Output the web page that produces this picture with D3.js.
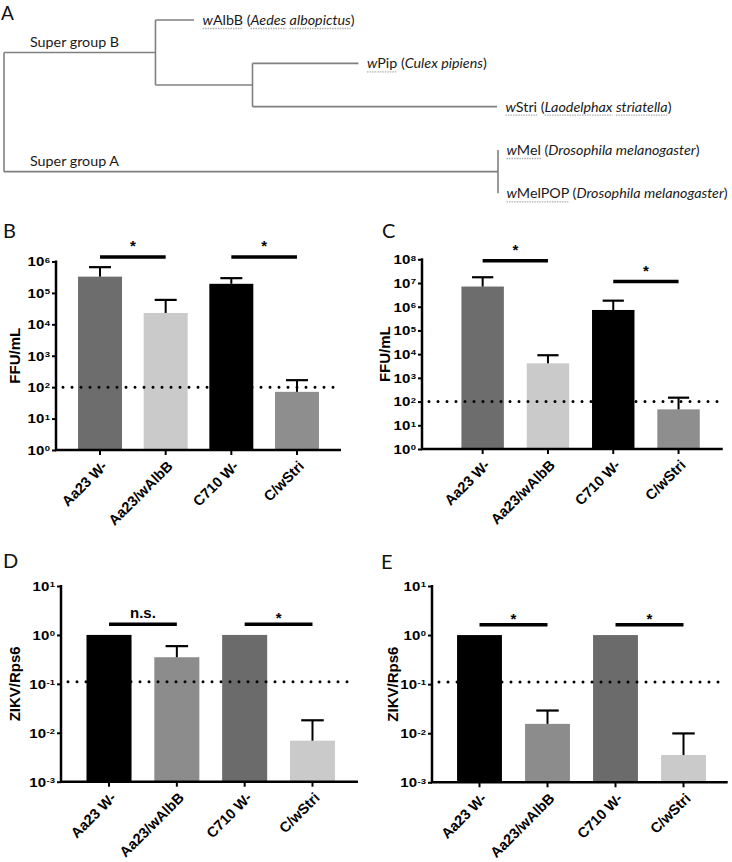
<!DOCTYPE html>
<html><head><meta charset="utf-8">
<script src="https://cdn.jsdelivr.net/npm/d3@7"></script>
<style>body{margin:0;background:#fff} svg{display:block}</style>
</head><body>
<svg id="c" width="732" height="862"></svg>
<script>
// ---------------- data ----------------
const groups = ["Aa23 W-", "Aa23/wAlbB", "C710 W-", "C/wStri"];

const ffuB = [3.3e5, 2.3e4, 1.95e5, 71];
const ffuBErrTop = [6.6e5, 6.0e4, 2.95e5, 167];
const ffuC = [7.1e6, 4.1e3, 7.3e5, 47];
const ffuCErrTop = [1.75e7, 9.0e3, 1.8e6, 146];
const zikvD = [1, 0.35, 1, 0.0069];
const zikvDErrTop = [null, 0.59, null, 0.018];
const zikvE = [1, 0.0155, 1, 0.0036];
const zikvEErrTop = [null, 0.029, null, 0.0099];

const ticksB = [1e0, 1e1, 1e2, 1e3, 1e4, 1e5, 1e6];
const ticksC = [1e0, 1e1, 1e2, 1e3, 1e4, 1e5, 1e6, 1e7, 1e8];
const ticksDE = [1e-3, 1e-2, 1e-1, 1e0, 1e1];

const detectionFFU = 100;
const detectionZIKV = 0.11;

// [from group index, to group index, label, height (data units)]
const sigB = [[0, 1, "*", 1.4e6], [2, 3, "*", 1.4e6]];
const sigC = [[0, 1, "*", 8.7e7], [2, 3, "*", 1.15e7]];
const sigD = [[0, 1, "n.s.", 1.66], [2, 3, "*", 1.66]];
const sigE = [[0, 1, "*", 1.62], [2, 3, "*", 1.62]];

const fillsBC = ["#6d6d6d", "#cacaca", "#000000", "#8e8e8e"];
const fillsDE = ["#000000", "#8c8c8c", "#6b6b6b", "#cacaca"];

// phylogeny (branch lengths, relative units)
const tree = {name: "root", children: [
  {name: "Super group B", len: 0.153, children: [
    {strain: "wAlbB", host: "Aedes albopictus", hostUl: true, len: 0.039},
    {len: 0.098, children: [
      {strain: "wPip", host: "Culex pipiens", hostUl: false, len: 0.107},
      {strain: "wStri", host: "Laodelphax striatella", hostUl: true, len: 0.247}
    ]}
  ]},
  {name: "Super group A", len: 0.499, children: [
    {strain: "wMel", host: "Drosophila melanogaster", hostUl: false, len: 0},
    {strain: "wMelPOP", host: "Drosophila melanogaster", hostUl: false, len: 0}
  ]}
]};

// ---------------- drawing ----------------
const svg = d3.select("#c");
const SANS = "'Liberation Sans', Arial, Helvetica, sans-serif";
const SOFT = "Lato, 'Open Sans', sans-serif";

// ---- Panel A: tree ----
(function drawTree() {
  const g = svg.append("g");
  const root = d3.hierarchy(tree);
  root.each(d => { d.dist = d.parent ? d.parent.dist + (d.data.len || 0) : 0; });
  const leaves = root.leaves();
  const yLeaf = d3.scalePoint().domain(d3.range(leaves.length)).range([20, 193.3]);
  leaves.forEach((l, i) => l.yy = yLeaf(i));
  root.eachAfter(d => { if (d.children) d.yy = d3.mean(d.children, c => c.yy); });
  const x = d3.scaleLinear().domain([0, 0.5]).range([4, 499]);

  const lineCol = "#808080";
  root.descendants().forEach(d => {
    if (d.parent) {
      g.append("line").attr("x1", x(d.parent.dist)).attr("x2", x(d.dist))
        .attr("y1", d.yy).attr("y2", d.yy).attr("stroke", lineCol).attr("stroke-width", 1.6);
    }
    if (d.children) {
      const ys = d.children.map(c => c.yy);
      g.append("line").attr("x1", x(d.dist)).attr("x2", x(d.dist))
        .attr("y1", d3.min(ys)).attr("y2", d3.max(ys)).attr("stroke", lineCol).attr("stroke-width", 1.6);
    }
    if (d.data.name && d.parent) {
      g.append("text").attr("x", x(0) + 26).attr("y", d.yy - 5.5)
        .attr("font-family", SOFT).attr("font-size", 14.3).attr("fill", "#1a1a1a")
        .text(d.data.name);
    }
  });

  leaves.forEach(l => {
    const s = l.data.strain;
    const segs = [{t: s[0], it: true, ul: true}, {t: s.slice(1), ul: true}, {t: " ("}];
    l.data.host.split(" ").forEach((w, i) => {
      if (i > 0) segs.push({t: " ", it: true});
      segs.push({t: w, it: true, ul: l.data.hostUl});
    });
    segs.push({t: ")"});
    const t = g.append("text").attr("x", x(l.dist) + 8.5).attr("y", l.yy).attr("dy", "0.36em")
      .attr("font-family", SOFT).attr("font-size", 14.3).attr("fill", "#1a1a1a")
      .style("white-space", "pre");
    const spans = segs.map(sg => t.append("tspan").attr("font-style", sg.it ? "italic" : "normal").text(sg.t));
    spans.forEach((sp, i) => {
      if (!segs[i].ul) return;
      const node = sp.node();
      const x0 = node.getStartPositionOfChar(0).x;
      const w = node.getComputedTextLength();
      g.append("line").attr("x1", x0).attr("x2", x0 + w)
        .attr("y1", l.yy + 8.5).attr("y2", l.yy + 8.5)
        .attr("stroke", "#b0b0b0").attr("stroke-width", 1.3).attr("stroke-dasharray", "1.5,1");
    });
  });

  svg.append("text").attr("x", 1).attr("y", 20).attr("font-family", SOFT)
    .attr("font-size", 19).attr("fill", "#111").text("A");
})();

// ---- bar panels ----
function drawPanel(cfg) {
  const g = svg.append("g");
  svg.append("text").attr("x", cfg.letterX).attr("y", cfg.letterY).attr("font-family", SOFT)
    .attr("font-size", 20).attr("fill", "#111").text(cfg.letter);

  const y = d3.scaleLog().domain([cfg.ticks[0], cfg.ticks[cfg.ticks.length - 1]])
    .range([cfg.yBottom, cfg.yTop]);
  const x = d3.scaleBand().domain(groups).range(cfg.band).paddingInner(cfg.pad).paddingOuter(cfg.pad / 2);
  const bw = x.bandwidth();

  // bars
  g.selectAll("rect.bar").data(groups).enter().append("rect")
    .attr("x", d => x(d)).attr("width", bw)
    .attr("y", (d, i) => y(cfg.values[i]))
    .attr("height", (d, i) => cfg.yBottom - y(cfg.values[i]))
    .attr("fill", (d, i) => cfg.fills[i]);

  // error bars (upper only)
  groups.forEach((gname, i) => {
    const top = cfg.errTop[i];
    if (top == null) return;
    const cx = x(gname) + bw / 2;
    g.append("line").attr("x1", cx).attr("x2", cx).attr("y1", y(cfg.values[i])).attr("y2", y(top))
      .attr("stroke", "#000").attr("stroke-width", 2);
    g.append("line").attr("x1", cx - bw / 4).attr("x2", cx + bw / 4).attr("y1", y(top)).attr("y2", y(top))
      .attr("stroke", "#000").attr("stroke-width", 2.2);
  });

  // detection limit
  g.append("line").attr("x1", cfg.axisX0 + 7).attr("x2", cfg.axisX1 - 3)
    .attr("y1", y(cfg.limit)).attr("y2", y(cfg.limit))
    .attr("stroke", "#000").attr("stroke-width", 3).attr("stroke-linecap", "round")
    .attr("stroke-dasharray", "0,9");

  // y axis
  const ya = g.append("g").attr("transform", `translate(${cfg.axisX0},0)`)
    .call(d3.axisLeft(y).tickValues(cfg.ticks).tickSize(4).tickFormat(""));
  ya.select(".domain").remove();
  ya.selectAll(".tick line").attr("stroke", "#000").attr("stroke-width", 2);
  ya.selectAll(".tick").each(function(d) {
    const e = Math.round(Math.log10(d));
    const t = d3.select(this).append("text")
      .attr("x", -6).attr("y", 0).attr("dy", "0.36em")
      .attr("transform", "scale(1,0.8)")
      .attr("text-anchor", "end").attr("font-family", SANS).attr("font-weight", "bold")
      .attr("font-size", 15).attr("fill", "#000");
    t.append("tspan").text("10");
    t.append("tspan").attr("font-size", 9.5).attr("dy", -4.4).attr("dx", 0.5).text(String(e));
  });
  g.append("line").attr("x1", cfg.axisX0).attr("x2", cfg.axisX0)
    .attr("y1", cfg.yTop - 1).attr("y2", cfg.yBottom)
    .attr("stroke", "#000").attr("stroke-width", 2.5);

  // x axis
  const xa = g.append("g").attr("transform", `translate(0,${cfg.yBottom})`)
    .call(d3.axisBottom(x).tickSize(5));
  xa.select(".domain").remove();
  xa.selectAll(".tick line").attr("stroke", "#000").attr("stroke-width", 2);
  xa.selectAll(".tick text")
    .attr("x", 0).attr("y", 0).attr("dy", 0)
    .attr("transform", "translate(8,17) rotate(-45)")
    .attr("text-anchor", "end").attr("font-family", SANS).attr("font-weight", "bold")
    .attr("font-size", 14.5).attr("fill", "#000");
  g.append("line").attr("x1", cfg.axisX0 - 1).attr("x2", cfg.axisX1)
    .attr("y1", cfg.yBottom).attr("y2", cfg.yBottom)
    .attr("stroke", "#000").attr("stroke-width", 2.5);

  // y title
  g.append("text").attr("transform", `translate(${cfg.titleX},${(cfg.yTop + cfg.yBottom) / 2}) rotate(-90)`)
    .attr("text-anchor", "middle").attr("dy", "0.36em")
    .attr("font-family", SANS).attr("font-weight", "bold").attr("font-size", 15).text(cfg.yTitle);

  // significance
  cfg.sig.forEach(([a, b, lab, h]) => {
    const x1 = x(groups[a]) + bw / 2, x2 = x(groups[b]) + bw / 2, yy = y(h);
    g.append("line").attr("x1", x1).attr("x2", x2).attr("y1", yy).attr("y2", yy)
      .attr("stroke", "#000").attr("stroke-width", 3.5);
    const isStar = lab === "*";
    g.append("text").attr("x", (x1 + x2) / 2)
      .attr("y", isStar ? yy - cfg.starOff + 8.6 : yy - 6.3)
      .attr("text-anchor", "middle").attr("font-family", SANS).attr("font-weight", "bold")
      .attr("font-size", 15).text(lab);
  });
}

drawPanel({letter: "B", letterX: 3, letterY: 238, axisX0: 56, axisX1: 341, yTop: 261.5, yBottom: 450,
  band: [67.2, 329.8], pad: 0.33, ticks: ticksB, values: ffuB, errTop: ffuBErrTop, fills: fillsBC,
  limit: detectionFFU, sig: sigB, starOff: 15, yTitle: "FFU/mL", titleX: 15});
drawPanel({letter: "C", letterX: 382, letterY: 238, axisX0: 422, axisX1: 722.7, yTop: 259.3, yBottom: 449,
  band: [450, 711.2], pad: 0.35, ticks: ticksC, values: ffuC, errTop: ffuCErrTop, fills: fillsBC,
  limit: detectionFFU, sig: sigC, starOff: 14.5, yTitle: "FFU/mL", titleX: 385});
drawPanel({letter: "D", letterX: 3, letterY: 568, axisX0: 61, axisX1: 358, yTop: 586, yBottom: 781.7,
  band: [75.1, 346.4], pad: 0.336, ticks: ticksDE, values: zikvD, errTop: zikvDErrTop, fills: fillsDE,
  limit: detectionZIKV, sig: sigD, starOff: 9.3, yTitle: "ZIKV/Rps6", titleX: 15});
drawPanel({letter: "E", letterX: 381, letterY: 569, axisX0: 432, axisX1: 727.7, yTop: 586, yBottom: 782.3,
  band: [445.5, 717.5], pad: 0.34, ticks: ticksDE, values: zikvE, errTop: zikvEErrTop, fills: fillsDE,
  limit: detectionZIKV, sig: sigE, starOff: 9, yTitle: "ZIKV/Rps6", titleX: 393});
</script>
</body></html>
